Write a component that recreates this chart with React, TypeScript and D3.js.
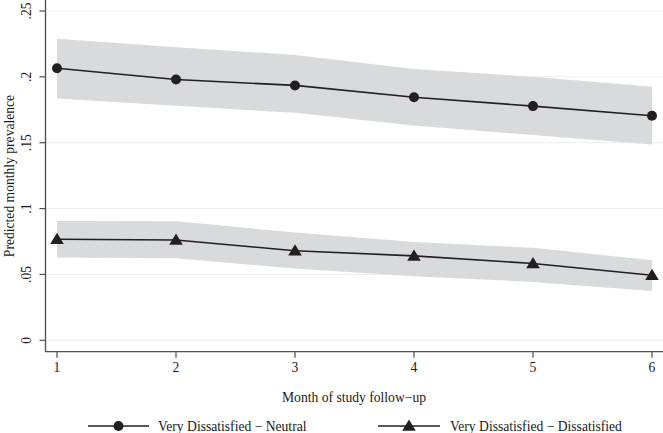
import React from "react";
import * as d3 from "d3";

const months = [1, 2, 3, 4, 5, 6];
const neutralEst = [0.2065, 0.198, 0.1935, 0.1845, 0.1778, 0.1705];
const neutralLo = [0.1836, 0.178, 0.1727, 0.163, 0.1558, 0.1487];
const neutralHi = [0.229, 0.2225, 0.2166, 0.206, 0.2, 0.1925];
const dissatEst = [0.0767, 0.0762, 0.0680, 0.0641, 0.0583, 0.0494];
const dissatLo = [0.0629, 0.0622, 0.0545, 0.0487, 0.0443, 0.0375];
const dissatHi = [0.0906, 0.0904, 0.0818, 0.0747, 0.0702, 0.0608];
const yTicks = [0, 0.05, 0.1, 0.15, 0.2, 0.25];
const yTickLabels = ["0", ".05", ".1", ".15", ".2", ".25"];
const xTicks = [1, 2, 3, 4, 5, 6];
const seriesNames = ["Very Dissatisfied \u2212 Neutral", "Very Dissatisfied \u2212 Dissatisfied"];
const xTitle = "Month of study follow\u2212up";
const yTitle = "Predicted monthly prevalence";

const W = 663;
const H = 433;
const FONT = "'Liberation Serif', 'Times New Roman', serif";
const LINE = "#231f20";
const AXIS = "#4d4d4d";
const BAND = "#d9dadb";
const FS = 13.6;
const TXT = "#1a1a1a";

export default function App() {
  const x = d3.scaleLinear().domain([1, 6]).range([57, 652]);
  const y = d3.scaleLinear().domain([0, 0.25]).range([340.3, 11]);
  const axisX = 45.5;
  const axisY = 351.7;

  const area = (lo: number[], hi: number[]) =>
    d3
      .area<number>()
      .x((_, i) => x(months[i]))
      .y0((_, i) => y(lo[i]))
      .y1((_, i) => y(hi[i]))(months) || "";
  const line = (v: number[]) =>
    d3
      .line<number>()
      .x((_, i) => x(months[i]))
      .y((_, i) => y(v[i]))(months) || "";

  const tri = (cx: number, cy: number, s = 6.8) =>
    `M${cx},${cy - s * 0.95} L${cx + s},${cy + s * 0.7} L${cx - s},${cy + s * 0.7} Z`;

  return (
    <svg
      width={W}
      height={H}
      style={{ position: "absolute", left: 0, top: 0, background: "#fff" }}
      fontFamily={FONT}
    >
      <rect width={W} height={H} fill="#fff" />
      {yTicks.map((t) => (
        <line key={"g" + t} x1={axisX} x2={W} y1={y(t)} y2={y(t)} stroke="#eeeeee" strokeWidth={1} />
      ))}
      <path d={area(neutralLo, neutralHi)} fill={BAND} />
      <path d={area(dissatLo, dissatHi)} fill={BAND} />
      <path d={line(neutralEst)} fill="none" stroke={LINE} strokeWidth={1.6} />
      <path d={line(dissatEst)} fill="none" stroke={LINE} strokeWidth={1.6} />
      {neutralEst.map((v, i) => (
        <circle key={"c" + i} cx={x(months[i])} cy={y(v)} r={5} fill={LINE} />
      ))}
      {dissatEst.map((v, i) => (
        <path key={"t" + i} d={tri(x(months[i]), y(v))} fill={LINE} />
      ))}
      <line x1={axisX} x2={axisX} y1={0} y2={axisY} stroke={AXIS} strokeWidth={1.3} />
      <line x1={axisX} x2={W} y1={axisY} y2={axisY} stroke={AXIS} strokeWidth={1.3} />
      {yTicks.map((t, i) => (
        <g key={"yt" + t}>
          <line x1={axisX - 6} x2={axisX} y1={y(t)} y2={y(t)} stroke={AXIS} strokeWidth={1.2} />
          <text
            transform={`translate(${26},${y(t)}) rotate(-90)`}
            textAnchor="middle"
            dominantBaseline="central"
            fontSize={FS}
            fill={TXT}
          >
            {yTickLabels[i]}
          </text>
        </g>
      ))}
      {xTicks.map((t) => (
        <g key={"xt" + t}>
          <line x1={x(t)} x2={x(t)} y1={axisY} y2={axisY + 6} stroke={AXIS} strokeWidth={1.2} />
          <text x={x(t)} y={367} textAnchor="middle" dominantBaseline="central" fontSize={FS} fill={TXT}>
            {t}
          </text>
        </g>
      ))}
      <text x={354} y={397} textAnchor="middle" dominantBaseline="central" fontSize={FS} fill={TXT}>
        {xTitle}
      </text>
      <text
        transform={`translate(${9},${176}) rotate(-90)`}
        textAnchor="middle"
        dominantBaseline="central"
        fontSize={FS}
        fill={TXT}
      >
        {yTitle}
      </text>
      <g>
        <line x1={88} x2={149} y1={426} y2={426} stroke={LINE} strokeWidth={1.6} />
        <circle cx={118.5} cy={426} r={5} fill={LINE} />
        <text x={158} y={426} dominantBaseline="central" fontSize={FS} fill={TXT}>
          {seriesNames[0]}
        </text>
        <line x1={378} x2={440} y1={426} y2={426} stroke={LINE} strokeWidth={1.6} />
        <path d={tri(409, 426)} fill={LINE} />
        <text x={450} y={426} dominantBaseline="central" fontSize={FS} fill={TXT}>
          {seriesNames[1]}
        </text>
      </g>
    </svg>
  );
}
